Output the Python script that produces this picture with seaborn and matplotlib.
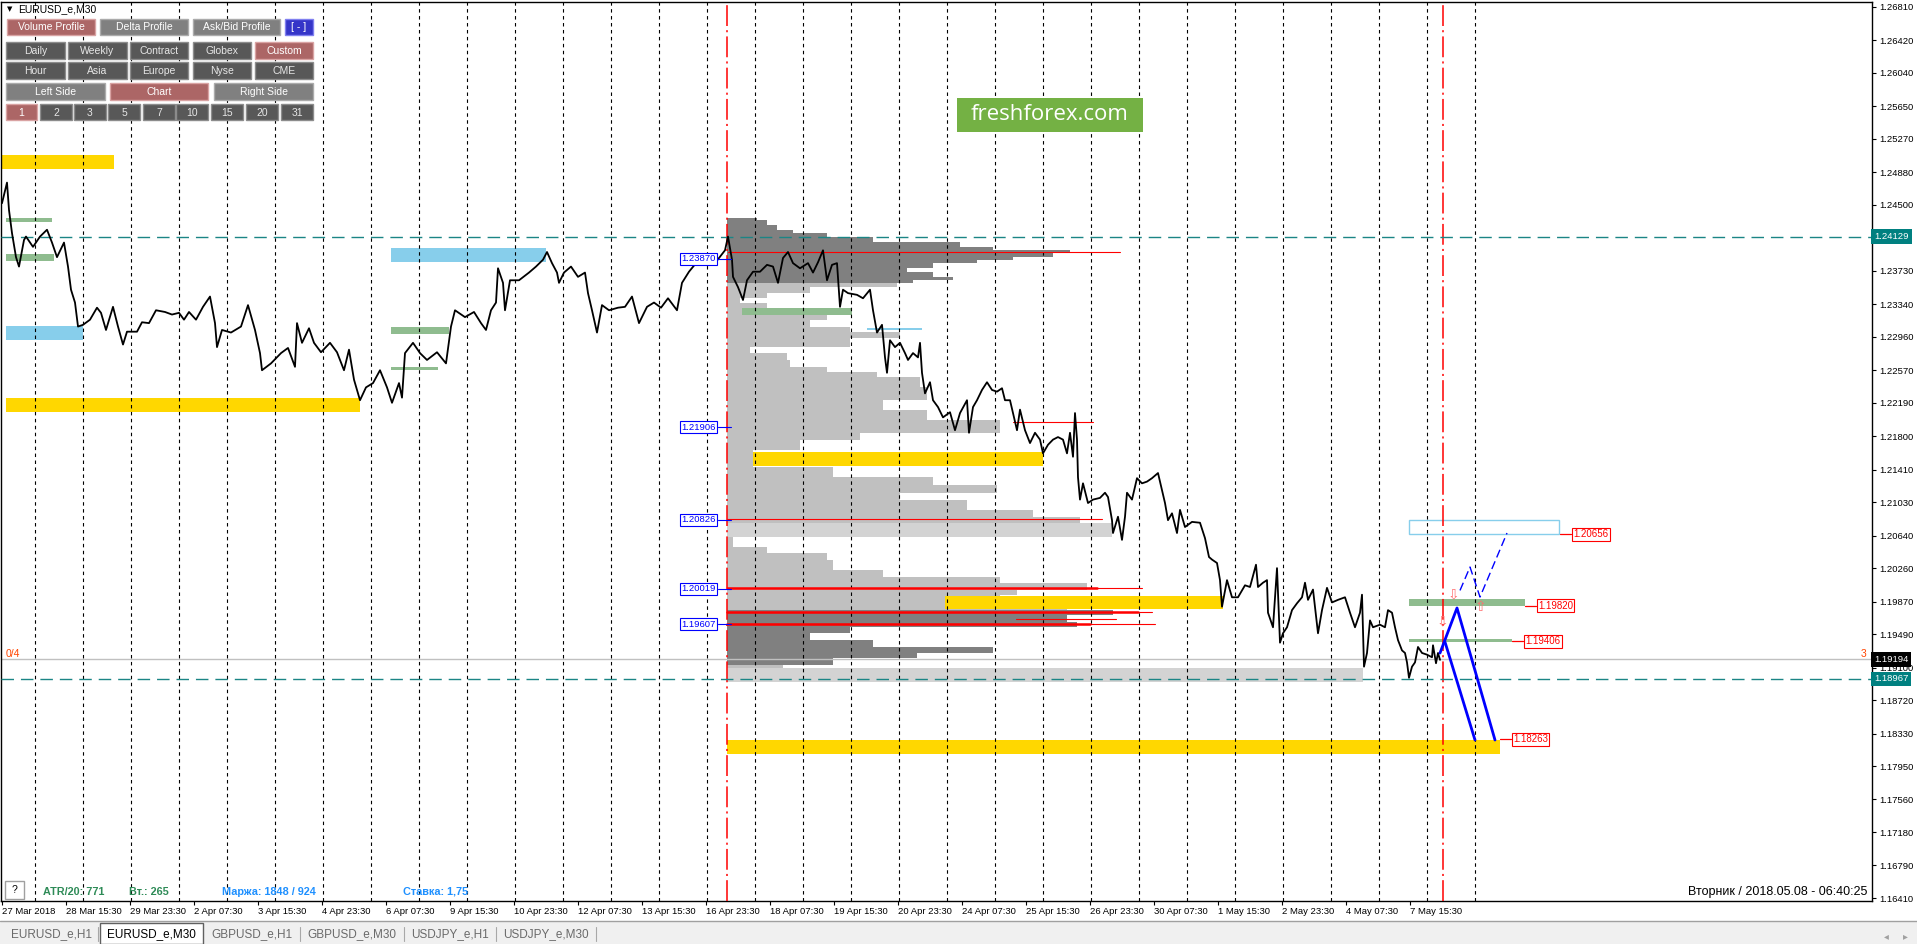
import numpy as np
import pandas as pd
import matplotlib
matplotlib.use("Agg")
import matplotlib.pyplot as plt
from matplotlib.patches import Rectangle
from matplotlib.ticker import FormatStrFormatter
import seaborn as sns

W, H = 1917, 944

# EURUSD_e M30 close, bar index (one bar = one pixel column) and price
bars = [2, 7, 9, 12, 16, 19, 24, 26, 33, 40, 47, 52, 57, 64, 68, 71, 75, 78, 83, 90,
        97, 101, 106, 113, 118, 123, 127, 137, 142, 149, 156, 165, 172, 179, 184, 189, 196, 203, 210, 215,
        217, 222, 231, 241, 248, 255, 260, 262, 271, 281, 288, 295, 297, 302, 309, 314, 321, 330, 337, 344,
        349, 354, 360, 366, 373, 380, 387, 392, 399, 402, 405, 413, 420, 427, 437, 446, 451, 455, 465, 474,
        481, 486, 491, 496, 498, 503, 505, 510, 519, 529, 536, 543, 547, 552, 557, 559, 564, 571, 578, 585,
        588, 592, 597, 602, 609, 618, 625, 632, 639, 647, 654, 661, 668, 677, 682, 689, 696, 705, 715, 725,
        728, 732, 733, 738, 743, 747, 753, 760, 767, 773, 778, 783, 788, 793, 800, 808, 813, 818, 823, 827,
        832, 837, 840, 843, 848, 857, 863, 870, 873, 877, 882, 885, 887, 890, 895, 900, 905, 908, 913, 918,
        920, 922, 925, 930, 933, 938, 943, 950, 955, 960, 967, 969, 973, 977, 982, 987, 992, 997, 1002, 1005,
        1010, 1013, 1017, 1020, 1025, 1030, 1035, 1040, 1043, 1048, 1053, 1058, 1063, 1067, 1070, 1073, 1075, 1077, 1078, 1080,
        1083, 1088, 1093, 1100, 1105, 1108, 1112, 1113, 1118, 1122, 1125, 1127, 1132, 1137, 1142, 1147, 1152, 1158, 1165, 1168,
        1172, 1177, 1180, 1185, 1192, 1200, 1205, 1209, 1212, 1217, 1220, 1222, 1227, 1232, 1238, 1245, 1250, 1256, 1258, 1263,
        1267, 1268, 1273, 1277, 1280, 1283, 1287, 1292, 1297, 1302, 1305, 1308, 1313, 1318, 1322, 1327, 1332, 1338, 1345, 1350,
        1355, 1360, 1362, 1364, 1367, 1370, 1373, 1380, 1385, 1388, 1392, 1395, 1398, 1402, 1405, 1407, 1409, 1412, 1415, 1418,
        1422, 1427, 1432, 1433, 1436, 1438, 1440]
close = [1.2452, 1.2476, 1.2444, 1.2417, 1.2389, 1.2378, 1.2409, 1.2413, 1.2401, 1.2413, 1.2421, 1.2406, 1.2389, 1.2406, 1.2378, 1.2351, 1.2336, 1.2308, 1.2310, 1.2316,
         1.2330, 1.2324, 1.2304, 1.2331, 1.2308, 1.2287, 1.2302, 1.2302, 1.2313, 1.2312, 1.2327, 1.2325, 1.2322, 1.2324, 1.2316, 1.2325, 1.2316, 1.2331, 1.2343, 1.2312,
         1.2284, 1.2304, 1.2301, 1.2308, 1.2333, 1.2304, 1.2277, 1.2257, 1.2265, 1.2277, 1.2283, 1.2261, 1.2312, 1.2289, 1.2306, 1.2289, 1.2278, 1.2289, 1.2278, 1.2257,
         1.2281, 1.2246, 1.2222, 1.2237, 1.2242, 1.2257, 1.2237, 1.2219, 1.2242, 1.2225, 1.2277, 1.2289, 1.2277, 1.2269, 1.2278, 1.2265, 1.2308, 1.2327, 1.2319, 1.2325,
         1.2312, 1.2304, 1.2327, 1.2336, 1.2376, 1.2359, 1.2327, 1.2362, 1.2362, 1.2371, 1.2378, 1.2386, 1.2395, 1.2382, 1.2371, 1.2359, 1.2371, 1.2378, 1.2366, 1.2371,
         1.2347, 1.2327, 1.2301, 1.2333, 1.2327, 1.2330, 1.2331, 1.2343, 1.2312, 1.2331, 1.2336, 1.2330, 1.2341, 1.2327, 1.2359, 1.2372, 1.2382, 1.2380, 1.2382, 1.2397,
         1.2413, 1.2386, 1.2366, 1.2354, 1.2339, 1.2362, 1.2372, 1.2372, 1.2380, 1.2378, 1.2359, 1.2388, 1.2395, 1.2382, 1.2376, 1.2382, 1.2371, 1.2383, 1.2397, 1.2362,
         1.2380, 1.2382, 1.2331, 1.2351, 1.2347, 1.2345, 1.2341, 1.2351, 1.2327, 1.2301, 1.2310, 1.2272, 1.2254, 1.2292, 1.2284, 1.2289, 1.2277, 1.2269, 1.2277, 1.2272,
         1.2289, 1.2254, 1.2230, 1.2243, 1.2222, 1.2214, 1.2202, 1.2208, 1.2187, 1.2207, 1.2222, 1.2184, 1.2214, 1.2222, 1.2234, 1.2243, 1.2234, 1.2232, 1.2236, 1.2222,
         1.2222, 1.2207, 1.2187, 1.2211, 1.2187, 1.2172, 1.2184, 1.2176, 1.2160, 1.2170, 1.2176, 1.2179, 1.2176, 1.2160, 1.2184, 1.2156, 1.2207, 1.2176, 1.2132, 1.2106,
         1.2125, 1.2102, 1.2106, 1.2108, 1.2114, 1.2109, 1.2082, 1.2067, 1.2086, 1.2059, 1.2086, 1.2114, 1.2106, 1.2131, 1.2125, 1.2127, 1.2131, 1.2137, 1.2102, 1.2082,
         1.2090, 1.2067, 1.2094, 1.2074, 1.2080, 1.2079, 1.2061, 1.2039, 1.2036, 1.2032, 1.2012, 1.1981, 1.2012, 1.1992, 1.1992, 1.2006, 1.2004, 1.2030, 1.2004, 1.2009,
         1.2012, 1.1974, 1.1957, 1.2026, 1.1939, 1.1950, 1.1957, 1.1977, 1.1985, 1.1992, 1.2009, 1.1989, 1.2001, 1.1950, 1.1977, 1.2003, 1.1986, 1.1989, 1.1992, 1.1974,
         1.1957, 1.1974, 1.1995, 1.1911, 1.1927, 1.1965, 1.1957, 1.1960, 1.1957, 1.1977, 1.1974, 1.1957, 1.1942, 1.1930, 1.1927, 1.1916, 1.1898, 1.1911, 1.1916, 1.1934,
         1.1927, 1.1925, 1.1922, 1.1936, 1.1915, 1.1927, 1.1919]

date_labels = ["27 Mar 2018", "28 Mar 15:30", "29 Mar 23:30", "2 Apr 07:30", "3 Apr 15:30", "4 Apr 23:30",
               "6 Apr 07:30", "9 Apr 15:30", "10 Apr 23:30", "12 Apr 07:30", "13 Apr 15:30", "16 Apr 23:30",
               "18 Apr 07:30", "19 Apr 15:30", "20 Apr 23:30", "24 Apr 07:30", "25 Apr 15:30", "26 Apr 23:30",
               "30 Apr 07:30", "1 May 15:30", "2 May 23:30", "4 May 07:30", "7 May 15:30"]
# the 1.24120 grid label sits under the 1.24129 level box, so it is left out
price_ticks = [1.26810, 1.26420, 1.26040, 1.25650, 1.25270, 1.24880, 1.24500, 1.23730, 1.23340,
               1.22960, 1.22570, 1.22190, 1.21800, 1.21410, 1.21030, 1.20640, 1.20260, 1.19870, 1.19490,
               1.19100, 1.18720, 1.18330, 1.17950, 1.17560, 1.17180, 1.16790, 1.16410]

# volume profile from 16 Apr 23:30 (bar 727)
profile_start = 727
profile_edges = [1.24343, 1.24324, 1.24266, 1.24207, 1.24168, 1.24129, 1.24071, 1.24013, 1.23974, 1.23935,
                 1.23896, 1.23857, 1.23818, 1.23760, 1.23721, 1.23662, 1.23624, 1.23585, 1.23538, 1.23468,
                 1.23410, 1.23351, 1.23293, 1.23215, 1.23157, 1.23079, 1.23020, 1.22943, 1.22845, 1.22768,
                 1.22690, 1.22612, 1.22554, 1.22495, 1.22378, 1.22223, 1.22106, 1.21989, 1.21834, 1.21756,
                 1.21639, 1.21445, 1.21328, 1.21231, 1.21133, 1.21056, 1.20939, 1.20861, 1.20783, 1.20620,
                 1.20511, 1.20433, 1.20355, 1.20238, 1.20161, 1.20083, 1.20005, 1.19947, 1.19849, 1.19772,
                 1.19713, 1.19635, 1.19577, 1.19499, 1.19421, 1.19343, 1.19266, 1.19207, 1.19129, 1.19071,
                 1.18993, 1.18935]
profile_volume = [30, 40, 50, 66, 100, 146, 233, 266, 343, 326, 286, 250, 206, 180, 206, 226, 186, 170, 83, 40,
                  13, 40, 73, 100, 83, 123, 173, 123, 23, 60, 63, 100, 150, 193, 200, 156, 200, 273, 133, 73,
                  26, 106, 206, 270, 173, 240, 306, 353, 56, 6, 40, 100, 106, 156, 273, 360, 290, 273, 340, 386,
                  340, 350, 123, 83, 146, 266, 190, 106, 56, 33, 6]
value_areas = [(1.23585, 1.24343), (1.19129, 1.19772)]

# zones: (from bar, to bar, low, high)
yellow_zones = [(1, 114, 1.24919, 1.25083), (6, 360, 1.22083, 1.22246), (753, 1043, 1.21452, 1.21616),
                (945, 1223, 1.19783, 1.19935), (727, 1500, 1.18091, 1.18254)]
blue_zones = [(6, 83, 1.22923, 1.23087), (391, 546, 1.23834, 1.23997), (867, 922, 1.23037, 1.23060)]
green_zones = [(6, 52, 1.24300, 1.24347), (6, 54, 1.23845, 1.23927), (391, 449, 1.22993, 1.23075),
               (391, 438, 1.22573, 1.22608), (742, 852, 1.23215, 1.23297), (1409, 1525, 1.19818, 1.19900),
               (1409, 1512, 1.19398, 1.19433)]
gray_zones = [(727, 1112, 1.20620, 1.20783), (727, 1363, 1.18931, 1.19094)]

# red volume levels: (from bar, to bar, price)
red_thin = [(728, 1120, 1.23954), (1013, 1093, 1.21966), (727, 1102, 1.20832), (727, 1142, 1.20029),
            (727, 1152, 1.19748), (1016, 1116, 1.19666), (727, 1155, 1.19612)]
red_thick = [(727, 1097, 1.20029), (727, 1138, 1.19748), (727, 1090, 1.19612)]
profile_labels = [1.23870, 1.21906, 1.20826, 1.20019, 1.19607]

# targets: (line from bar, price)
targets = [(1560, 1.20656), (1525, 1.19820), (1512, 1.19406), (1500, 1.18263)]
target_box = (1409, 1559, 1.20656, 1.20822)
path_a_bar, path_a = [1440, 1457, 1495], [1.19269, 1.19795, 1.18254]
path_b_bar, path_b = [1445, 1475], [1.19398, 1.18254]
path_c_bar, path_c = [1460, 1470, 1480, 1507], [1.20000, 1.20273, 1.19923, 1.20670]
arrows = [(1453, 1.19958, "\u21e9"), (1442, 1.19632, "\u21e9"), (1480, 1.19807, "\u21e7")]

levels_teal = [1.24129, 1.18967]
last_price = 1.19194
now_bar, profile_bar = 1443, 727

row1 = ["Volume Profile", "Delta Profile", "Ask/Bid Profile", "[ - ]"]
row2 = ["Daily", "Weekly", "Contract", "Globex", "Custom"]
row3 = ["Hour", "Asia", "Europe", "Nyse", "CME"]
row4 = ["Left Side", "Chart", "Right Side"]
row5 = ["1", "2", "3", "5", "7", "10", "15", "20", "31"]
tabs = ["EURUSD_e,H1", "EURUSD_e,M30", "GBPUSD_e,H1", "GBPUSD_e,M30", "USDJPY_e,H1", "USDJPY_e,M30"]

sns.set_theme(style="white")
plt.rcParams['font.family'] = ['Liberation Sans', 'DejaVu Sans']
plt.rcParams['lines.scale_dashes'] = False

fig = plt.figure(figsize=(W / 100, H / 100), dpi=100)
fig.patch.set_facecolor('white')
ax = fig.add_axes([1 / W, 1 - 901 / H, 1871 / W, 899 / H])
ax.set_xlim(1, 1872)
ax.set_ylim(1.16375, 1.26868)

# profile
edges = np.array(profile_edges)
hi, lo = edges[:-1], edges[1:]
mid = (hi + lo) / 2
dark = np.zeros(len(mid), dtype=bool)
for a, b in value_areas:
    dark |= (mid >= a) & (mid <= b)
ax.barh(mid, profile_volume, height=hi - lo, left=profile_start,
        color=np.where(dark, '#808080', '#C0C0C0'), lw=0, zorder=1)

def zone(lst, col, z=2):
    for x0, x1, a, b in lst:
        ax.add_patch(Rectangle((x0, a), x1 - x0, b - a, fc=col, ec='none', zorder=z))

zone(gray_zones, '#D3D3D3', 1.2)
zone(yellow_zones, '#FFD700')
zone(blue_zones, '#87CEEB')
zone(green_zones, '#8FBC8F')
x0, x1, a, b = target_box
ax.add_patch(Rectangle((x0, a), x1 - x0, b - a, fc='none', ec='#87CEEB', lw=1, zorder=2))

# separators and levels
for x in np.arange(35, 1480, 48):
    ax.axvline(x, color='black', lw=0.8, ls=(0, (2.5, 2.5)), zorder=3)
for x in [profile_bar, now_bar]:
    ax.axvline(x, color='#FF0000', lw=1.1, ls=(0, (15, 3, 1.5, 3)), zorder=3)
for p in levels_teal:
    ax.axhline(p, color='#1B8585', lw=1, ls=(0, (9, 5)), zorder=3)
ax.axhline(last_price, color='#C0C0C0', lw=1, zorder=2.5)
for x0, x1, p in red_thin:
    ax.plot([x0, x1], [p, p], color='#FF0000', lw=0.8, zorder=3.5)
for x0, x1, p in red_thick:
    ax.plot([x0, x1], [p, p], color='#FF0000', lw=1.8, zorder=3.5)

# price
df = pd.DataFrame({'bar': bars, 'close': close})
sns.lineplot(data=df, x='bar', y='close', color='black', lw=1.3, ax=ax, zorder=6)

for p in profile_labels:
    ax.plot([718, 731], [p, p], color='#0000FF', lw=0.8, zorder=7)
    ax.text(716, p, f'{p:.5f}', ha='right', va='center', color='#0000FF', fontsize=6.8, zorder=7,
            bbox=dict(boxstyle='square,pad=0.15', fc='white', ec='#0000FF', lw=0.8))

for xs, p in targets:
    ax.plot([xs, xs + 11], [p, p], color='#FF0000', lw=0.9, zorder=7)
    ax.text(xs + 13, p, f'{p:.5f}', ha='left', va='center', color='#FF0000', fontsize=7, zorder=7,
            bbox=dict(boxstyle='square,pad=0.15', fc='white', ec='#FF0000', lw=0.8))

ax.plot(path_a_bar, path_a, color='#0000FF', lw=2, zorder=7)
ax.plot(path_b_bar, path_b, color='#0000FF', lw=2, zorder=7)
ax.plot(path_c_bar, path_c, color='#0000FF', lw=1, ls=(0, (6, 3)), zorder=7)
for x, p, g in arrows:
    ax.text(x, p, g, ha='center', va='center', color='#FF7070', fontsize=10,
            family=['DejaVu Sans'], zorder=8)

ax.text(6, last_price, '0/4', ha='left', va='bottom', color='#FF4500', fontsize=7.5, zorder=8)
ax.text(1866, last_price, '3', ha='right', va='bottom', color='#FF4500', fontsize=7.5, zorder=8)

# axes
ax.set_xlabel('')
ax.set_ylabel('')
ax.yaxis.tick_right()
ax.set_yticks(price_ticks)
ax.yaxis.set_major_formatter(FormatStrFormatter('%.5f'))
ax.set_xticks(np.arange(len(date_labels)) * 64 + 2)
ax.set_xticklabels(date_labels, ha='left')
ax.tick_params(axis='y', length=3, width=0.8, pad=2.5, labelsize=6.8, colors='black', direction='out', right=True)
ax.tick_params(axis='x', length=3, width=0.8, pad=1.5, labelsize=6.8, colors='black', direction='out', bottom=True)
for s in ax.spines.values():
    s.set_color('black')
    s.set_linewidth(1)

for p, fc in [(levels_teal[0], '#008080'), (levels_teal[1], '#008080'), (last_price, 'black')]:
    ax.text(1.0012, p, f'{p:.5f}', transform=ax.get_yaxis_transform(), ha='left', va='center',
            color='white', fontsize=6.8, zorder=9,
            bbox=dict(boxstyle='square,pad=0.3', fc=fc, ec='none'))

# terminal overlay: buttons, watermark, status texts, tabs
def fx(x, y):
    return x / W, 1 - y / H

def box(x0, y0, x1, y1, fc, ec, lw=1, z=2):
    fig.patches.append(Rectangle(fx(x0, y1), (x1 - x0) / W, (y1 - y0) / H, transform=fig.transFigure,
                                 fc=fc, ec=ec, lw=lw, zorder=z))

def button(x0, y0, x1, y1, label, fc, ec, tc='white'):
    box(x0, y0, x1, y1, fc, ec)
    fig.text(*fx((x0 + x1) / 2, (y0 + y1) / 2 + 0.5), label, ha='center', va='center', color=tc, fontsize=7.5, zorder=3)

rose, rose_e = '#AC6666', '#D9A3A3'
mid_g, mid_e = '#808080', '#ABABAB'
dark_g, dark_e = '#585858', '#8C8C8C'

fig.text(*fx(7, 9), '\u25bc', ha='left', va='center', fontsize=5, color='black', family=['DejaVu Sans'])
fig.text(*fx(18, 9), 'EURUSD_e,M30', ha='left', va='center', fontsize=7.5, color='black')
for (x0, x1), lab in zip([(7, 95), (100, 188), (193, 280), (285, 313)], row1):
    if lab == row1[0]:
        button(x0, 19, x1, 35, lab, rose, rose_e)
    elif lab == row1[-1]:
        button(x0, 19, x1, 35, lab, '#3535C8', '#8080F0')
    else:
        button(x0, 19, x1, 35, lab, mid_g, mid_e)
cols5 = [(6, 65), (68, 127), (130, 188), (193, 251), (255, 313)]
for (x0, x1), lab in zip(cols5, row2):
    if lab == 'Custom':
        button(x0, 42, x1, 59, lab, rose, rose_e)
    else:
        button(x0, 42, x1, 59, lab, dark_g, dark_e, '#E6E6E6')
for (x0, x1), lab in zip(cols5, row3):
    button(x0, 62, x1, 79, lab, dark_g, dark_e, '#E6E6E6')
for (x0, x1), lab in zip([(6, 105), (110, 208), (214, 313)], row4):
    if lab == 'Chart':
        button(x0, 83, x1, 100, lab, rose, rose_e)
    else:
        button(x0, 83, x1, 100, lab, mid_g, mid_e)
cols9 = [(6, 37), (40, 72), (74, 106), (108, 140), (143, 175), (176, 208), (211, 243), (246, 278), (281, 313)]
for (x0, x1), lab in zip(cols9, row5):
    if lab == '1':
        button(x0, 104, x1, 120, lab, rose, rose_e)
    else:
        button(x0, 104, x1, 120, lab, dark_g, dark_e, '#E6E6E6')

box(957, 98, 1143, 132, '#74B144', 'none')
fig.text(*fx(1050, 115), 'freshforex.com', ha='center', va='center', color='white', fontsize=16,
         family=['Open Sans', 'DejaVu Sans'], zorder=3)

box(5, 881, 24, 899, 'white', '#A0A0A0')
fig.text(*fx(14.5, 890), '?', ha='center', va='center', fontsize=7.5, color='black', zorder=3)
fig.text(*fx(43, 892), 'ATR/20: 771', ha='left', va='center', fontsize=7.8, color='#2E8B57', weight='bold', zorder=3)
fig.text(*fx(129, 892), 'Вт.: 265', ha='left', va='center', fontsize=7.8, color='#2E8B57', weight='bold', zorder=3)
fig.text(*fx(222, 892), 'Маржа: 1848 / 924', ha='left', va='center', fontsize=7.8, color='#1E90FF', weight='bold', zorder=3)
fig.text(*fx(403, 892), 'Ставка: 1,75', ha='left', va='center', fontsize=7.8, color='#1E90FF', weight='bold', zorder=3)
fig.text(*fx(1867, 892), 'Вторник / 2018.05.08 - 06:40:25', ha='right', va='center', fontsize=9, color='black', zorder=3)

# tab bar
box(0, 922, W, 944, '#F0F0F0', 'none', z=1)
fig.add_artist(plt.Line2D([0, 1], [1 - 921 / H] * 2, color='#A0A0A0', lw=1, transform=fig.transFigure))
tab_x = [(6, 98), (100, 203), (204, 300), (300, 404), (404, 496), (496, 596)]
for (x0, x1), lab in zip(tab_x, tabs):
    if lab == 'EURUSD_e,M30':
        box(x0, 923, x1, 944, 'white', '#606060')
        fig.text(*fx((x0 + x1) / 2, 934), lab, ha='center', va='center', fontsize=8.5, color='black', zorder=3)
    else:
        fig.text(*fx((x0 + x1) / 2, 934), lab, ha='center', va='center', fontsize=8.5, color='#6A6A6A', zorder=3)
        fig.add_artist(plt.Line2D([x1 / W] * 2, [1 - 927 / H, 1 - 941 / H], color='#A8A8A8', lw=0.8,
                                  transform=fig.transFigure))
fig.text(*fx(1886, 936), '\u25c2', ha='center', va='center', fontsize=7, color='#A0A0A0', family=['DejaVu Sans'])
fig.text(*fx(1905, 936), '\u25b8', ha='center', va='center', fontsize=7, color='#A0A0A0', family=['DejaVu Sans'])

fig.savefig('out.png', dpi=100)
